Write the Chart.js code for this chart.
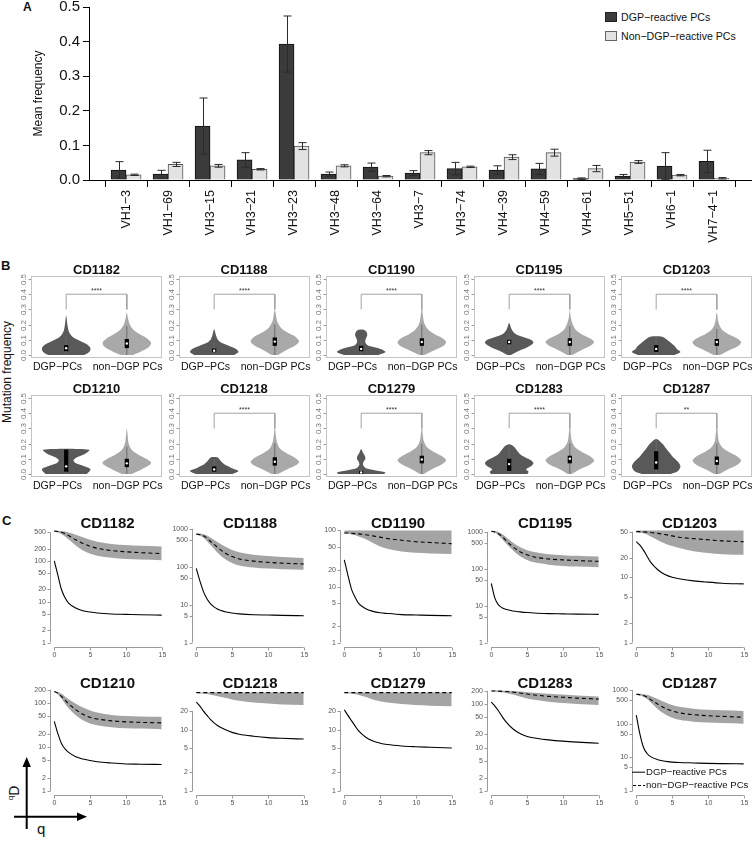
<!DOCTYPE html>
<html lang="en">
<head>
<meta charset="UTF-8">
<title>DGP-reactive plasma cells: VH usage, mutation and diversity</title>
<script src="https://cdn.jsdelivr.net/npm/chart.js@4.4.1/dist/chart.umd.min.js"></script>
<style>
  html, body { margin: 0; padding: 0; background: #fff; }
  body { position: relative; width: 752px; height: 841px; overflow: hidden;
         font-family: "Liberation Sans", Arial, Helvetica, sans-serif; color: #111; }
  canvas { position: absolute; }
  .t { position: absolute; white-space: nowrap; line-height: 1; }
  .panel { font-weight: bold; }
  .ttl { font-weight: bold; transform: translate(-50%, -50%); }
  .rot { transform: translate(-50%, -50%) rotate(-90deg); }
  .sw { position: absolute; box-sizing: border-box; width: 12px; height: 10px; border: 1px solid #222; }
</style>
</head>
<body>

<div class="t panel" style="left:23px;top:1px;font-size:12px">A</div>
<div class="t panel" style="left:1px;top:259px;font-size:13px">B</div>
<div class="t panel" style="left:2px;top:514px;font-size:13px">C</div>

<div class="sw" style="left:605px;top:12px;background:#3b3b3b"></div>
<div class="t" style="left:621px;top:12px;font-size:10.6px">DGP−reactive PCs</div>
<div class="sw" style="left:605px;top:31px;background:#e2e2e2;border-color:#666"></div>
<div class="t" style="left:621px;top:31px;font-size:10.6px">Non−DGP−reactive PCs</div>

<div class="t rot" style="left:7px;top:372px;font-size:12px">Mutation frequency</div>

<svg style="position:absolute;left:0;top:750px" width="100" height="91">
  <line x1="26.7" y1="79" x2="26.7" y2="14" stroke="#000" stroke-width="2"/>
  <polygon points="26.7,7 22.5,17 30.9,17" fill="#000"/>
  <line x1="14" y1="66.7" x2="79" y2="66.7" stroke="#000" stroke-width="2"/>
  <polygon points="87,66.7 77,62.5 77,70.9" fill="#000"/>
</svg>
<div class="t rot" style="left:14px;top:793px;font-size:14px"><sup style="font-size:8px">q</sup>D</div>
<div class="t" style="left:37px;top:821px;font-size:15px">q</div>

<script>
// ---------------- panel A: VH gene usage ----------------
const vhGenes = ['VH1−3', 'VH1−69', 'VH3−15', 'VH3−21', 'VH3−23', 'VH3−48', 'VH3−64', 'VH3−7',
                 'VH3−74', 'VH4−39', 'VH4−59', 'VH4−61', 'VH5−51', 'VH6−1', 'VH7−4−1'];
const dgpMean = [0.029, 0.017, 0.156, 0.058, 0.393, 0.017, 0.037, 0.020, 0.033, 0.029, 0.032, 0.004, 0.011, 0.040, 0.054];
const dgpErr  = [0.024, 0.011, 0.081, 0.021, 0.081, 0.006, 0.012, 0.007, 0.018, 0.012, 0.016, 0.002, 0.005, 0.039, 0.032];
const nonMean = [0.015, 0.045, 0.041, 0.031, 0.098, 0.041, 0.011, 0.079, 0.038, 0.066, 0.079, 0.033, 0.052, 0.014, 0.005];
const nonErr  = [0.002, 0.006, 0.004, 0.002, 0.010, 0.003, 0.002, 0.006, 0.002, 0.007, 0.010, 0.009, 0.004, 0.002, 0.002];
const freqTicks = [0, 0.1, 0.2, 0.3, 0.4, 0.5];

// ---------------- panel B: mutation frequency violins ----------------
const donors = ['CD1182', 'CD1188', 'CD1190', 'CD1195', 'CD1203', 'CD1210', 'CD1218', 'CD1279', 'CD1283', 'CD1287'];
const pStars = ['****', '****', '****', '****', '****', '', '****', '****', '****', '**'];
const mutTicks = [0, 0.1, 0.2, 0.3, 0.4, 0.5];
const groupNames = ['DGP−PCs', 'non−DGP PCs'];
// outlines as [mutation frequency, half width]
const dgpViolins = [
  [[0, .30], [.02, .38], [.045, .40], [.07, .34], [.09, .24], [.11, .14], [.13, .08], [.16, .04], [.20, .02], [.26, 0]],
  [[0, .33], [.02, .40], [.04, .36], [.06, .24], [.08, .12], [.10, .06], [.13, .03], [.17, 0]],
  [[0, .28], [.02, .40], [.04, .32], [.06, .12], [.08, .07], [.10, .07], [.13, .10], [.15, .09], [.165, .05]],
  [[0, .03], [.02, .12], [.05, .30], [.08, .40], [.10, .36], [.12, .22], [.14, .10], [.17, .04], [.21, 0]],
  [[0, .30], [.02, .40], [.04, .34], [.06, .30], [.08, .24], [.10, .18], [.12, .10]],
  [[0, .34], [.03, .40], [.05, .30], [.07, .16], [.09, .12], [.11, .18], [.13, .30], [.16, .38]],
  [[0, .30], [.02, .40], [.04, .28], [.06, .18], [.08, .12], [.10, .08], [.11, .05]],
  [[0, .38], [.01, .40], [.025, .22], [.04, .07], [.06, .03], [.08, .04], [.10, .07], [.12, .06], [.14, .03], [.165, 0]],
  [[0, .30], [.015, .32], [.03, .28], [.05, .36], [.07, .40], [.09, .36], [.11, .26], [.13, .18], [.16, .12], [.18, .08], [.195, 0]],
  [[0, .24], [.02, .36], [.05, .40], [.08, .36], [.11, .28], [.14, .22], [.17, .16], [.20, .10], [.23, 0]]
];
const nonViolins = [
  [[0, .10], [.02, .22], [.05, .36], [.08, .40], [.11, .33], [.14, .20], [.17, .10], [.20, .05], [.24, .02], [.28, 0]],
  [[0, .05], [.03, .18], [.06, .33], [.09, .40], [.12, .34], [.15, .20], [.18, .10], [.22, .04], [.26, .02], [.30, 0]],
  [[0, .04], [.03, .20], [.06, .36], [.085, .40], [.11, .34], [.14, .20], [.17, .10], [.21, .04], [.27, .015], [.33, 0]],
  [[0, .04], [.03, .18], [.06, .34], [.085, .40], [.11, .33], [.14, .18], [.17, .09], [.21, .04], [.25, .015], [.30, 0]],
  [[0, .05], [.03, .20], [.06, .36], [.085, .40], [.11, .33], [.14, .18], [.17, .08], [.21, .03], [.28, 0]],
  [[0, .08], [.03, .24], [.06, .38], [.075, .40], [.10, .32], [.13, .18], [.16, .08], [.20, .03], [.25, .015], [.30, 0]],
  [[0, .05], [.03, .20], [.06, .36], [.08, .40], [.11, .32], [.14, .18], [.17, .08], [.21, .035], [.26, .015], [.32, 0]],
  [[0, .03], [.03, .16], [.06, .32], [.09, .40], [.12, .32], [.15, .18], [.18, .08], [.22, .03], [.31, 0]],
  [[0, .03], [.03, .16], [.06, .33], [.09, .40], [.12, .32], [.15, .18], [.18, .08], [.22, .03], [.32, 0]],
  [[0, .04], [.03, .18], [.06, .34], [.09, .40], [.12, .32], [.15, .18], [.18, .08], [.22, .03], [.33, 0]]
];
// [lower whisker, q1, median, q3, upper whisker]
const dgpBoxes = [
  [0, .025, .045, .065, .12], [0, .018, .028, .042, .08], [0, .025, .04, .06, .10], [.04, .07, .085, .10, .14],
  [0, .02, .04, .065, .12], [0, .015, .05, .16, .16], [0, .015, .03, .05, .10], [0, 0, .01, .02, .04],
  [0, .02, .065, .10, .19], [0, .03, .075, .15, .23]
];
const nonBoxes = [
  [0, .045, .075, .105, .19], [0, .06, .088, .115, .20], [0, .06, .085, .11, .20], [0, .06, .085, .11, .19],
  [0, .06, .085, .105, .17], [0, .045, .07, .10, .18], [0, .055, .08, .11, .20], [0, .07, .095, .12, .20],
  [0, .07, .10, .12, .20], [0, .06, .085, .115, .20]
];

// ---------------- panel C: diversity curves ----------------
const qValues = [0, 0.5, 1, 1.5, 2, 3, 4, 5, 6, 8, 10, 12, 15];
const dgpCurves = [
  [100, 45, 20, 12.5, 9.3, 7, 6, 5.6, 5.3, 5.0, 4.9, 4.8, 4.7],
  [90, 42, 22, 14, 10.5, 7.5, 6.5, 6, 5.7, 5.4, 5.3, 5.2, 5.1],
  [30, 16, 9, 6.5, 5, 4, 3.6, 3.4, 3.3, 3.15, 3.1, 3.05, 3.0],
  [40, 16, 10.5, 8.8, 8, 7.2, 6.8, 6.5, 6.3, 6.1, 6.0, 5.9, 5.8],
  [35, 31, 26, 21, 17, 13, 11, 10, 9.5, 8.8, 8.4, 8.1, 7.9],
  [38, 20, 12, 9, 7.5, 6, 5.3, 4.9, 4.6, 4.3, 4.1, 4.05, 4.0],
  [28, 24, 20, 17, 14.5, 11.5, 10, 9, 8.4, 7.8, 7.4, 7.2, 7.0],
  [21, 17, 14, 11.5, 9.5, 7.5, 6.5, 6, 5.7, 5.4, 5.25, 5.15, 5.0],
  [110, 90, 70, 52, 40, 27, 21, 18, 16.5, 15, 14, 13.3, 12.5],
  [180, 50, 20, 13, 10.5, 8.5, 7.6, 7.2, 7.0, 6.8, 6.6, 6.5, 6.4]
];
const nonCurves = [
  [540, 530, 505, 470, 420, 330, 270, 230, 205, 180, 168, 160, 152],
  [720, 700, 650, 560, 460, 320, 230, 185, 160, 140, 130, 124, 118],
  [90, 90, 89, 88, 87, 84, 80, 76, 72, 67, 63, 61, 58],
  [1050, 1000, 900, 760, 600, 400, 290, 240, 210, 185, 175, 168, 160],
  [50, 50, 49.5, 49, 48.5, 47, 45, 43, 41, 39, 37.5, 36, 35],
  [180, 165, 140, 115, 95, 70, 55, 47, 43, 39, 37, 36, 35],
  [40, 40, 40, 40, 40, 40, 40, 40, 40, 40, 40, 40, 40],
  [40, 40, 40, 40, 40, 40, 40, 40, 40, 40, 40, 40, 40],
  [200, 200, 198, 196, 194, 188, 180, 170, 162, 150, 143, 137, 130],
  [750, 730, 690, 620, 520, 380, 290, 240, 210, 185, 172, 165, 155]
];
const nonUpper = [
  [560, 555, 545, 525, 500, 440, 380, 330, 295, 262, 245, 236, 228],
  [760, 750, 720, 660, 580, 440, 340, 275, 240, 205, 190, 180, 170],
  [100, 100, 100, 100, 100, 100, 100, 100, 100, 100, 100, 100, 100],
  [1080, 1060, 1000, 880, 740, 520, 390, 320, 285, 250, 235, 225, 215],
  [52, 52, 52, 52, 52, 52, 52, 52, 52, 52, 52, 52, 52],
  [185, 175, 160, 140, 120, 95, 78, 67, 60, 53, 50, 49, 48],
  [40, 40, 40, 40, 40, 40, 40, 40, 40, 40, 40, 40, 40],
  [40, 40, 40, 40, 40, 40, 40, 40, 40, 40, 40, 40, 40],
  [205, 205, 204, 203, 202, 200, 195, 188, 182, 172, 165, 158, 150],
  [780, 770, 750, 720, 660, 540, 430, 360, 320, 280, 260, 250, 240]
];
const nonLower = [
  [520, 500, 460, 400, 340, 240, 180, 150, 135, 120, 112, 108, 104],
  [690, 650, 580, 470, 370, 230, 160, 125, 108, 95, 89, 86, 83],
  [88, 87, 85, 82, 78, 70, 60, 52, 47, 42, 40, 39, 38],
  [1020, 960, 820, 650, 500, 320, 220, 175, 150, 130, 120, 115, 110],
  [49, 48, 47, 45, 42, 37, 33, 30, 28, 25, 23.5, 22.5, 22],
  [175, 155, 125, 95, 75, 52, 40, 34, 31, 28, 26.5, 26, 25],
  [39.5, 39, 38.5, 38, 37, 35, 33, 31, 29.5, 27.5, 26.5, 25.5, 25],
  [39.5, 39, 38.5, 37.5, 36.5, 34, 31, 29, 27.5, 26, 25, 24.5, 24],
  [195, 193, 190, 186, 180, 165, 150, 135, 125, 113, 105, 100, 95],
  [720, 690, 630, 540, 430, 270, 190, 150, 130, 115, 108, 104, 100]
];
const dTop = [560, 900, 100, 1100, 52, 195, 44, 44, 210, 1000];
const dTicks = [
  [1, 2, 5, 10, 20, 50, 100, 200, 500], [1, 5, 10, 50, 100, 500, 1000], [1, 2, 5, 10, 20, 50, 100],
  [1, 5, 10, 50, 100, 500, 1000], [1, 2, 5, 10, 20, 50], [1, 2, 5, 10, 20, 50, 100, 200],
  [1, 2, 5, 10, 20], [1, 2, 5, 10, 20], [1, 2, 5, 10, 20, 50, 100, 200], [1, 5, 10, 50, 100, 500, 1000]
];
const qTicks = [0, 5, 10, 15];

Chart.defaults.font.family = '"Liberation Sans", Arial, Helvetica, sans-serif';
Chart.defaults.color = '#111';

function addCanvas(left, top, w, h) {
  const c = document.createElement('canvas');
  c.width = w; c.height = h;
  c.style.left = left + 'px'; c.style.top = top + 'px';
  document.body.appendChild(c);
  return c.getContext('2d');
}
function addText(txt, x, y, size, cls) {
  const d = document.createElement('div');
  d.className = 't ' + cls;
  d.style.left = x + 'px'; d.style.top = y + 'px'; d.style.fontSize = size + 'px';
  d.textContent = txt;
  document.body.appendChild(d);
}

// ---- A ----
const errorBars = {
  id: 'errorBars',
  afterDatasetsDraw(chart) {
    const {ctx} = chart, y = chart.scales.y;
    [[dgpMean, dgpErr], [nonMean, nonErr]].forEach(([means, errs], di) => {
      chart.getDatasetMeta(di).data.forEach((bar, i) => {
        const x = Math.round(bar.x) + 0.5;
        const hi = y.getPixelForValue(means[i] + errs[i]);
        const lo = y.getPixelForValue(Math.max(means[i] - errs[i], 0));
        ctx.save();
        ctx.strokeStyle = '#2a2a2a'; ctx.lineWidth = 1;
        ctx.beginPath();
        ctx.moveTo(x, hi); ctx.lineTo(x, lo);
        ctx.moveTo(x - 4, hi); ctx.lineTo(x + 4, hi);
        ctx.moveTo(x - 4, lo); ctx.lineTo(x + 4, lo);
        ctx.stroke();
        ctx.restore();
      });
    });
  }
};

new Chart(addCanvas(0, -20, 752, 275), {
  type: 'bar',
  data: {
    datasets: [
      { label: 'DGP−reactive PCs', data: dgpMean.map((v, i) => ({x: i, y: v})),
        backgroundColor: '#3b3b3b', borderColor: '#111', borderWidth: 1, barThickness: 15 },
      { label: 'Non−DGP−reactive PCs', data: nonMean.map((v, i) => ({x: i, y: v})),
        backgroundColor: '#e2e2e2', borderColor: '#555', borderWidth: 1, barThickness: 15 }
    ]
  },
  options: {
    responsive: false, animation: false, events: [],
    layout: {padding: {top: 27, left: 0, right: 0, bottom: 0}},
    plugins: {legend: {display: false}, tooltip: {enabled: false}},
    scales: {
      x: {
        type: 'linear', min: -0.356, max: 14.378,
        afterBuildTicks: s => { s.ticks = vhGenes.map((g, i) => ({value: i})); },
        ticks: {callback: v => vhGenes[v], minRotation: 90, maxRotation: 90, autoSkip: false,
                font: {size: 12.5}, color: '#111', padding: 3},
        grid: {drawOnChartArea: false, drawTicks: true, tickLength: 7, color: '#000'},
        border: {color: '#000'},
        afterFit: s => { s.height = 75; }
      },
      y: {
        min: 0, max: 0.5,
        afterBuildTicks: s => { s.ticks = freqTicks.map(v => ({value: v})); },
        ticks: {callback: v => v.toFixed(1), font: {size: 15}, color: '#111', padding: 3},
        grid: {drawOnChartArea: false, tickLength: 6, color: '#000'},
        border: {color: '#000'},
        title: {display: true, text: 'Mean frequency', font: {size: 12}, color: '#111', padding: {top: 31, bottom: 0}},
        afterFit: s => { s.width = 89; }
      }
    }
  },
  plugins: [errorBars]
});

// ---- B ----
const bAxes = {
  id: 'bAxes',
  afterDraw(chart, args, o) {
    const {ctx, chartArea: a} = chart, x = chart.scales.x, y = chart.scales.y;
    ctx.save();
    ctx.strokeStyle = '#c4c4c4'; ctx.lineWidth = 1;
    ctx.strokeRect(Math.round(a.left) + 0.5, Math.round(a.top) + 0.5, Math.round(a.width) - 1, Math.round(a.height) - 1);
    ctx.strokeStyle = '#9a9a9a'; ctx.fillStyle = '#777';
    ctx.font = '8px "Liberation Sans", Arial, sans-serif';
    ctx.textAlign = 'center'; ctx.textBaseline = 'middle';
    mutTicks.forEach(v => {
      const py = Math.round(y.getPixelForValue(v)) + 0.5;
      ctx.beginPath(); ctx.moveTo(a.left, py); ctx.lineTo(a.left - 2.5, py); ctx.stroke();
      ctx.save(); ctx.translate(a.left - 7.5, py); ctx.rotate(-Math.PI / 2);
      ctx.fillText(v.toFixed(1), 0, 0); ctx.restore();
    });
    // group names sit slightly apart, as in the source figure
    ctx.fillStyle = '#111'; ctx.font = '10.6px "Liberation Sans", Arial, sans-serif';
    ctx.fillText(groupNames[0], x.getPixelForValue(0.857), a.bottom + 9.5);
    ctx.fillText(groupNames[1], x.getPixelForValue(2.012), a.bottom + 9.5);
    if (o.stars) {
      ctx.fillStyle = '#333'; ctx.font = '7px "Liberation Sans", Arial, sans-serif';
      ctx.textBaseline = 'alphabetic';
      ctx.fillText(o.stars, x.getPixelForValue(1.5), y.getPixelForValue(0.405));
    }
    ctx.restore();
  }
};

const bColLeft = [31, 178.5, 326, 473.5, 621];
const bRowTop = [275.5, 394.5];
const frameW = 131, frameH = 82;

function lineSet(pts, color) {
  return {data: pts.map(([x, y]) => ({x, y})), borderColor: color, borderWidth: 1, pointRadius: 0, fill: false, tension: 0};
}
function violinSet(shape, cx, color) {
  const right = shape.map(([y, w]) => ({x: cx + w, y}));
  const left = shape.slice().reverse().filter(([y, w]) => w > 0).map(([y, w]) => ({x: cx - w, y}));
  return {data: right.concat(left), fill: 'shape', backgroundColor: color, borderWidth: 0, pointRadius: 0, tension: 0.3};
}
function boxSet(cx, lo, hi) {
  const h = 0.035;
  return {data: [{x: cx - h, y: lo}, {x: cx + h, y: lo}, {x: cx + h, y: hi}, {x: cx - h, y: hi}],
          fill: 'shape', backgroundColor: '#000', borderWidth: 0, pointRadius: 0, tension: 0};
}
function medianSet(cx, m) {
  return {data: [{x: cx, y: m}], showLine: false, pointRadius: 1.2, pointBackgroundColor: '#fff', pointBorderWidth: 0};
}

donors.forEach((name, i) => {
  const left = bColLeft[i % 5], top = bRowTop[Math.floor(i / 5)];
  const layers = [];
  if (pStars[i]) layers.push(lineSet([[1, 0.3], [1, 0.4], [2, 0.4], [2, 0.3]], '#a3a3a3'));
  [[dgpViolins[i], dgpBoxes[i], 1, '#595959'], [nonViolins[i], nonBoxes[i], 2, '#a9a9a9']].forEach(([shape, box, cx, col]) => {
    layers.push(violinSet(shape, cx, col));
    layers.push(lineSet([[cx, box[0]], [cx, box[4]]], '#6a6a6a'));
    layers.push(boxSet(cx, box[1], box[3]));
    layers.push(medianSet(cx, box[2]));
  });
  new Chart(addCanvas(left - 31, top - 4, frameW + 35, frameH + 24), {
    type: 'line',
    data: {datasets: layers.reverse()},
    options: {
      responsive: false, animation: false, events: [],
      layout: {padding: {left: 31, top: 4, right: 4, bottom: 20}},
      plugins: {legend: {display: false}, tooltip: {enabled: false}, bAxes: {stars: pStars[i]}},
      scales: {
        x: {type: 'linear', display: false, min: 0.42, max: 2.58},
        y: {type: 'linear', display: false, min: -0.02, max: 0.52}
      }
    },
    plugins: [bAxes]
  });
  addText(name, left + frameW / 2, top - 6.5, 13, 'ttl');
});

// ---- C ----
const cAxes = {
  id: 'cAxes',
  afterDraw(chart, args, o) {
    const {ctx, chartArea: a} = chart, x = chart.scales.x, y = chart.scales.y;
    const ax = Math.round(a.left) + 0.5, ay = Math.round(a.bottom) + 0.5;
    ctx.save();
    ctx.strokeStyle = '#9a9a9a'; ctx.lineWidth = 1; ctx.fillStyle = '#555';
    ctx.font = '7px "Liberation Sans Narrow", "Arial Narrow", "Liberation Sans", sans-serif';
    ctx.beginPath();
    ctx.moveTo(ax, y.getPixelForValue(o.ticks[0])); ctx.lineTo(ax, y.getPixelForValue(o.ticks[o.ticks.length - 1]));
    ctx.moveTo(x.getPixelForValue(0), ay); ctx.lineTo(x.getPixelForValue(15), ay);
    ctx.textAlign = 'right'; ctx.textBaseline = 'middle';
    o.ticks.forEach(v => {
      const py = Math.round(y.getPixelForValue(v)) + 0.5;
      ctx.moveTo(ax, py); ctx.lineTo(ax - 3, py);
      ctx.fillText(String(v), ax - 4.5, py);
    });
    ctx.textAlign = 'center';
    qTicks.forEach(v => {
      const px = Math.round(x.getPixelForValue(v)) + 0.5;
      ctx.moveTo(px, ay); ctx.lineTo(px, ay + 3);
      ctx.fillText(String(v), px, ay + 8);
    });
    ctx.stroke();
    if (o.legend) {
      ctx.strokeStyle = '#000'; ctx.fillStyle = '#111';
      ctx.font = '9.6px "Liberation Sans", Arial, sans-serif';
      ctx.textAlign = 'left';
      ctx.beginPath(); ctx.moveTo(a.left, a.bottom - 22.8); ctx.lineTo(a.left + 13, a.bottom - 22.8); ctx.stroke();
      ctx.setLineDash([3, 2]);
      ctx.beginPath(); ctx.moveTo(a.left + 1, a.bottom - 9.5); ctx.lineTo(a.left + 13, a.bottom - 9.5); ctx.stroke();
      ctx.setLineDash([]);
      ctx.fillText('DGP−reactive PCs', a.left + 14, a.bottom - 22.8);
      ctx.fillText('non−DGP−reactive PCs', a.left + 14, a.bottom - 9.5);
    }
    ctx.restore();
  }
};

const cColLeft = [49.5, 192, 340, 487, 631.5];
const cRows = [{title: 522, top: 526, bottom: 647}, {title: 681.7, top: 686, bottom: 795.5}];
const cW = 116;

donors.forEach((name, i) => {
  const left = cColLeft[i % 5], row = cRows[Math.floor(i / 5)];
  const h = row.bottom - row.top;
  const L = Math.log10(dTop[i]);
  const pts = arr => arr.map((v, k) => ({x: qValues[k], y: v}));
  new Chart(addCanvas(left - 28, row.top - 2, 28 + cW + 6, h + 18), {
    type: 'line',
    data: {
      datasets: [
        {label: 'DGP−reactive PCs', data: pts(dgpCurves[i]), borderColor: '#000', borderWidth: 1.1,
         pointRadius: 0, fill: false, cubicInterpolationMode: 'monotone'},
        {label: 'non−DGP−reactive PCs', data: pts(nonCurves[i]), borderColor: '#000', borderWidth: 1.1,
         borderDash: [4, 3], pointRadius: 0, fill: false, cubicInterpolationMode: 'monotone'},
        {label: 'upper', data: pts(nonUpper[i]), borderWidth: 0, pointRadius: 0, fill: '+1',
         backgroundColor: '#a4a4a4', cubicInterpolationMode: 'monotone'},
        {label: 'lower', data: pts(nonLower[i]), borderWidth: 0, pointRadius: 0, fill: false,
         cubicInterpolationMode: 'monotone'}
      ]
    },
    options: {
      responsive: false, animation: false, events: [],
      layout: {padding: {left: 28, top: 2, right: 6, bottom: 16}},
      plugins: {legend: {display: false}, tooltip: {enabled: false},
                cAxes: {ticks: dTicks[i], legend: i === 9}},
      scales: {
        x: {type: 'linear', display: false, min: -0.6, max: 15.6},
        y: {type: 'logarithmic', display: false, min: Math.pow(10, -0.04 * L), max: Math.pow(10, 1.04 * L)}
      }
    },
    plugins: [cAxes]
  });
  addText(name, left + cW / 2, row.title, 15, 'ttl');
});
</script>
</body>
</html>
